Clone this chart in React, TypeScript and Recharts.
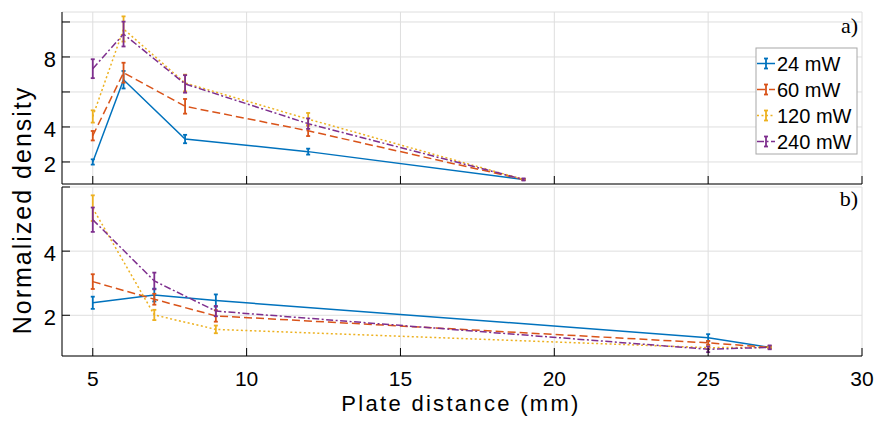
import React from 'react';
import { LineChart, Line, XAxis, YAxis, CartesianGrid, ErrorBar } from 'recharts';

const FONT = '"Liberation Sans", Arial, Helvetica, sans-serif';

const powers = ['24', '60', '120', '240'];
const colors = ['#0072BD', '#D95319', '#EDB120', '#7E2F8E'];
const dashes = ['', '8 4', '2 2.5', '7 2.5 2 2.5'];

// panel a)
const distA = [5, 6, 8, 12, 19];
const densA24 = [2.0, 6.7, 3.31, 2.59, 1.0];
const densA60 = [3.5, 7.1, 5.18, 3.78, 1.0];
const densA120 = [4.6, 9.6, 6.51, 4.45, 1.0];
const densA240 = [7.33, 9.31, 6.46, 4.19, 1.0];
const errA24 = [0.15, 0.5, 0.24, 0.17, 0.03];
const errA60 = [0.27, 0.57, 0.42, 0.3, 0.03];
const errA120 = [0.35, 0.72, 0.48, 0.35, 0.03];
const errA240 = [0.54, 0.71, 0.5, 0.3, 0.06];

// panel b)
const distB = [5, 7, 9, 25, 27];
const densB24 = [2.39, 2.63, 2.46, 1.3, 1.0];
const densB60 = [3.05, 2.5, 1.98, 1.14, 1.0];
const densB120 = [5.34, 2.01, 1.56, 0.99, 1.0];
const densB240 = [4.98, 3.07, 2.13, 0.94, 1.0];
const errB24 = [0.19, 0.2, 0.19, 0.11, 0.03];
const errB60 = [0.23, 0.17, 0.18, 0.06, 0.03];
const errB120 = [0.4, 0.16, 0.12, 0.05, 0.03];
const errB240 = [0.38, 0.26, 0.16, 0.09, 0.06];

const xTicks = [5, 10, 15, 20, 25, 30];
const yTicksA = [2, 4, 6, 8, 10];
const yLabelsA = [2, 4, 8];
const yTicksB = [2, 4, 6];
const yLabelsB = [2, 4];

const buildRows = (dist: number[], dens: number[][], errs: number[][]) =>
  dist.map((x, i) => {
    const row: Record<string, number> = { x };
    powers.forEach((p, k) => {
      row['d' + p] = dens[k][i];
      row['e' + p] = errs[k][i];
    });
    return row;
  });

const rowsA = buildRows(distA, [densA24, densA60, densA120, densA240], [errA24, errA60, errA120, errA240]);
const rowsB = buildRows(distB, [densB24, densB60, densB120, densB240], [errB24, errB60, errB120, errB240]);

const makeYTick = (shown: number[]) => (props: any) => {
  const { x, y, payload } = props;
  if (!shown.includes(payload.value)) return <g />;
  return (
    <text x={x} y={y + 10} textAnchor="end" fontSize={22} fontFamily={FONT} fill="#000">
      {payload.value}
    </text>
  );
};

const XTick = (props: any) => {
  const { x, y, payload } = props;
  return (
    <text x={x} y={y} textAnchor="middle" fontSize={21} fontFamily={FONT} fill="#000">
      {payload.value}
    </text>
  );
};

const series = () =>
  powers.map((p, k) => (
    <Line
      key={p}
      dataKey={'d' + p}
      stroke={colors[k]}
      strokeWidth={1.5}
      strokeDasharray={dashes[k]}
      dot={false}
      activeDot={false}
      isAnimationActive={false}
    >
      <ErrorBar dataKey={'e' + p} direction="y" width={2} stroke={colors[k]} strokeWidth={1.8} />
    </Line>
  ));

const App: React.FC = () => {
  return (
    <div style={{ position: 'absolute', left: 0, top: 0, width: 876, height: 421, background: '#fff' }}>
      <div style={{ position: 'absolute', left: 0, top: 0 }}>
        <LineChart width={876} height={190} data={rowsA} margin={{ top: 12, right: 14, left: 8, bottom: 0 }}>
          <CartesianGrid stroke="#dedede" />
          <XAxis
            type="number"
            dataKey="x"
            domain={[4, 30]}
            ticks={xTicks}
            interval={0}
            height={6}
            stroke="#000"
            tickSize={-8}
            tick={() => <g />}
          />
          <YAxis
            type="number"
            domain={[0.74, 10.57]}
            ticks={yTicksA}
            interval={0}
            width={54}
            stroke="#000"
            tickSize={-8}
            tickMargin={14}
            tick={makeYTick(yLabelsA)}
          />
          {series()}
        </LineChart>
      </div>
      <div style={{ position: 'absolute', left: 0, top: 184 }}>
        <LineChart width={876} height={237} data={rowsB} margin={{ top: 3, right: 14, left: 8, bottom: 25 }}>
          <CartesianGrid stroke="#dedede" />
          <XAxis
            type="number"
            dataKey="x"
            domain={[4, 30]}
            ticks={xTicks}
            interval={0}
            height={40}
            stroke="#000"
            tickSize={-8}
            tickMargin={38}
            tick={XTick}
          />
          <YAxis
            type="number"
            domain={[0.73, 6]}
            ticks={yTicksB}
            interval={0}
            width={54}
            stroke="#000"
            tickSize={-8}
            tickMargin={14}
            tick={makeYTick(yLabelsB)}
          />
          {series()}
        </LineChart>
      </div>
      <svg
        width={876}
        height={421}
        style={{ position: 'absolute', left: 0, top: 0, pointerEvents: 'none' }}
      >
        <text x={461} y={411} textAnchor="middle" fontSize={22} letterSpacing={2.3} fontFamily={FONT} fill="#000">
          Plate distance (mm)
        </text>
        <text
          transform="translate(31,210) rotate(-90)"
          textAnchor="middle"
          fontSize={25}
          letterSpacing={2}
          fontFamily={FONT}
          fill="#000"
        >
          Normalized density
        </text>
        <text x={858} y={33} textAnchor="end" fontSize={22} fontFamily='"Liberation Serif", serif' fill="#000">
          a)
        </text>
        <text x={858} y={206} textAnchor="end" fontSize={22} fontFamily='"Liberation Serif", serif' fill="#000">
          b)
        </text>
        <rect x={756} y={48} width={101} height={106} fill="#fff" stroke="#a8a8a8" strokeWidth={1} />
        {powers.map((p, k) => {
          const cy = 63.5 + k * 26;
          return (
            <g key={p}>
              <line x1={757} x2={775} y1={cy} y2={cy} stroke={colors[k]} strokeWidth={1.5} strokeDasharray={dashes[k]} />
              <line x1={766} x2={766} y1={cy - 5} y2={cy + 5} stroke={colors[k]} strokeWidth={1.8} />
              <line x1={764} x2={768} y1={cy - 5} y2={cy - 5} stroke={colors[k]} strokeWidth={1.8} />
              <line x1={764} x2={768} y1={cy + 5} y2={cy + 5} stroke={colors[k]} strokeWidth={1.8} />
              <text x={777} y={cy + 7} fontSize={20} fontFamily={FONT} fill="#000">
                {p} mW
              </text>
            </g>
          );
        })}
      </svg>
    </div>
  );
};

export default App;
